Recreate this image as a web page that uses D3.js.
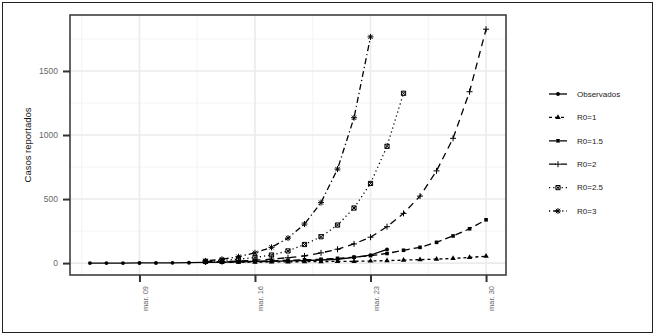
<!DOCTYPE html>
<html>
<head>
<meta charset="utf-8">
<script src="https://cdn.jsdelivr.net/npm/d3@7"></script>
<style>
  body { margin: 0; background: #fff; }
  svg { font-family: "Liberation Sans", Arial, sans-serif; }
</style>
</head>
<body>
<div id="chart"></div>
<script>
// Data
const obsStart = "2020-03-06";
const modelStart = "2020-03-13";
const observados = [0, 0, 0, 1, 1, 2, 3, 5, 7, 10, 12, 14, 17, 20, 24, 30, 45, 62, 107];
const r0_1 = [5, 6, 7, 8, 9, 10, 11, 12, 13, 14, 16, 19, 23, 27, 31, 36, 44, 54];
const r0_15 = [7, 9, 11, 14, 18, 22, 26, 30, 37, 46, 58, 75, 100, 123, 162, 212, 268, 338];
const r0_2 = [9, 12, 16, 22, 31, 42, 56, 80, 108, 150, 202, 284, 388, 523, 720, 974, 1338, 1826];
const r0_25 = [14, 21, 30, 44, 63, 95, 145, 206, 297, 430, 622, 912, 1326];
const r0_3 = [17, 30, 50, 80, 123, 195, 305, 472, 734, 1135, 1766];

const seriesNames = ["Observados", "R0=1", "R0=1.5", "R0=2", "R0=2.5", "R0=3"];
const xTickDates = ["2020-03-09", "2020-03-16", "2020-03-23", "2020-03-30"];
const xTickLabels = ["mar. 09", "mar. 16", "mar. 23", "mar. 30"];
const yTicks = [0, 500, 1000, 1500];

const W = 655, H = 334;
const panel = { left: 70, right: 506, top: 15, bottom: 275 };

const parse = d3.utcParse("%Y-%m-%d");
const toPoints = (start, vals) =>
  vals.map((v, i) => ({ date: d3.utcDay.offset(parse(start), i), value: v }));

// line styles per series
const dashes = [null, "3,3", "7,4", "7,5", "1.2,3", "1.2,3,6,3"];
const shapes = ["circle", "triangle", "square", "plus", "squarecross", "asterisk"];

const series = [
  toPoints(obsStart, observados),
  toPoints(modelStart, r0_1),
  toPoints(modelStart, r0_15),
  toPoints(modelStart, r0_2),
  toPoints(modelStart, r0_25),
  toPoints(modelStart, r0_3)
];

const x = d3.scaleUtc()
  .domain([d3.utcHour.offset(parse("2020-03-06"), -29), d3.utcHour.offset(parse("2020-03-30"), 29)])
  .range([panel.left, panel.right]);
const y = d3.scaleLinear().domain([-93, 1937]).range([panel.bottom, panel.top]);

const svg = d3.select("#chart").append("svg").attr("width", W).attr("height", H);

// outer frame
svg.append("rect").attr("x", 2.5).attr("y", 2.5).attr("width", W - 5).attr("height", H - 4)
  .attr("fill", "none").attr("stroke", "#222").attr("stroke-width", 1);

const grid = svg.append("g");
// minor grid
const minorX = xTickDates.map(d => d3.utcHour.offset(parse(d), -84));
minorX.forEach(d => grid.append("line")
  .attr("x1", x(d)).attr("x2", x(d)).attr("y1", panel.top).attr("y2", panel.bottom)
  .attr("stroke", "#f0f0f0").attr("stroke-width", 0.8));
yTicks.map(v => v + 250).forEach(v => grid.append("line")
  .attr("x1", panel.left).attr("x2", panel.right).attr("y1", y(v)).attr("y2", y(v))
  .attr("stroke", "#f0f0f0").attr("stroke-width", 0.8));
// major grid
xTickDates.forEach(d => grid.append("line")
  .attr("x1", x(parse(d))).attr("x2", x(parse(d))).attr("y1", panel.top).attr("y2", panel.bottom)
  .attr("stroke", "#ebebeb").attr("stroke-width", 1.6));
yTicks.forEach(v => grid.append("line")
  .attr("x1", panel.left).attr("x2", panel.right).attr("y1", y(v)).attr("y2", y(v))
  .attr("stroke", "#ebebeb").attr("stroke-width", 1.6));

// axes
const xAxis = d3.axisBottom(x)
  .tickValues(xTickDates.map(parse))
  .tickFormat((d, i) => xTickLabels[i])
  .tickSize(7).tickSizeOuter(0);
const gx = svg.append("g").attr("transform", `translate(0,${panel.bottom})`).call(xAxis);
gx.select(".domain").remove();
gx.selectAll(".tick line").attr("stroke", "#333").attr("stroke-width", 2);
gx.selectAll(".tick text")
  .attr("x", -11).attr("y", 0).attr("dy", "0.35em").attr("dx", 0)
  .attr("text-anchor", "end")
  .attr("transform", "rotate(-90) translate(0,5)")
  .attr("fill", "#666").attr("font-size", 7.5);

const yAxis = d3.axisLeft(y).tickValues(yTicks).tickFormat(d3.format("d"))
  .tickSize(7).tickSizeOuter(0).tickPadding(5);
const gy = svg.append("g").attr("transform", `translate(${panel.left},0)`).call(yAxis);
gy.select(".domain").remove();
gy.selectAll(".tick line").attr("stroke", "#333").attr("stroke-width", 2);
gy.selectAll(".tick text").attr("fill", "#666").attr("font-size", 8.5);

svg.append("text")
  .attr("transform", `translate(31,${(panel.top + panel.bottom) / 2}) rotate(-90)`)
  .attr("text-anchor", "middle").attr("font-size", 9.5).attr("fill", "#111")
  .text("Casos reportados");

// symbols
function symbolPath(shape, s) {
  switch (shape) {
    case "circle": return d3.symbol(d3.symbolCircle, 12)();
    case "triangle": return d3.symbol(d3.symbolTriangle, 13)();
    case "square": return d3.symbol(d3.symbolSquare, 13)();
    case "plus": return `M${-s},0H${s}M0,${-s}V${s}`;
    case "squarecross": {
      const h = s * 0.7;
      return `M${-h},${-h}H${h}V${h}H${-h}ZM${-h},${-h}L${h},${h}M${h},${-h}L${-h},${h}`;
    }
    case "asterisk": {
      const d = s * 0.72;
      return `M${-s},0H${s}M0,${-s}V${s}M${-d},${-d}L${d},${d}M${d},${-d}L${-d},${d}`;
    }
  }
}
const filled = s => s === "circle" || s === "triangle" || s === "square";

function drawSymbol(g, shape, cx, cy) {
  const p = g.append("path")
    .attr("d", symbolPath(shape, 3))
    .attr("transform", `translate(${cx},${cy})`);
  if (filled(shape)) p.attr("fill", "#000").attr("stroke", "none");
  else p.attr("fill", "none").attr("stroke", "#000").attr("stroke-width", 1);
}

const line = d3.line().x(d => x(d.date)).y(d => y(d.value));
const plot = svg.append("g");
series.forEach((pts, i) => {
  plot.append("path").datum(pts).attr("d", line)
    .attr("fill", "none").attr("stroke", "#000").attr("stroke-width", 1.3)
    .attr("stroke-dasharray", dashes[i]);
});
series.forEach((pts, i) => {
  pts.forEach(p => drawSymbol(plot, shapes[i], x(p.date), y(p.value)));
});

// panel border
svg.append("rect")
  .attr("x", panel.left).attr("y", panel.top)
  .attr("width", panel.right - panel.left).attr("height", panel.bottom - panel.top)
  .attr("fill", "none").attr("stroke", "#333").attr("stroke-width", 1.5);

// legend
const legend = svg.append("g").attr("transform", "translate(549,94)");
seriesNames.forEach((name, i) => {
  const g = legend.append("g").attr("transform", `translate(0,${i * 23.4})`);
  g.append("line").attr("x1", 0).attr("x2", 18).attr("y1", 0).attr("y2", 0)
    .attr("stroke", "#000").attr("stroke-width", 1.3).attr("stroke-dasharray", dashes[i]);
  drawSymbol(g, shapes[i], 9, 0);
  g.append("text").attr("x", 28).attr("y", 0).attr("dy", "0.35em")
    .attr("font-size", 8).attr("fill", "#222").text(name);
});
</script>
</body>
</html>
